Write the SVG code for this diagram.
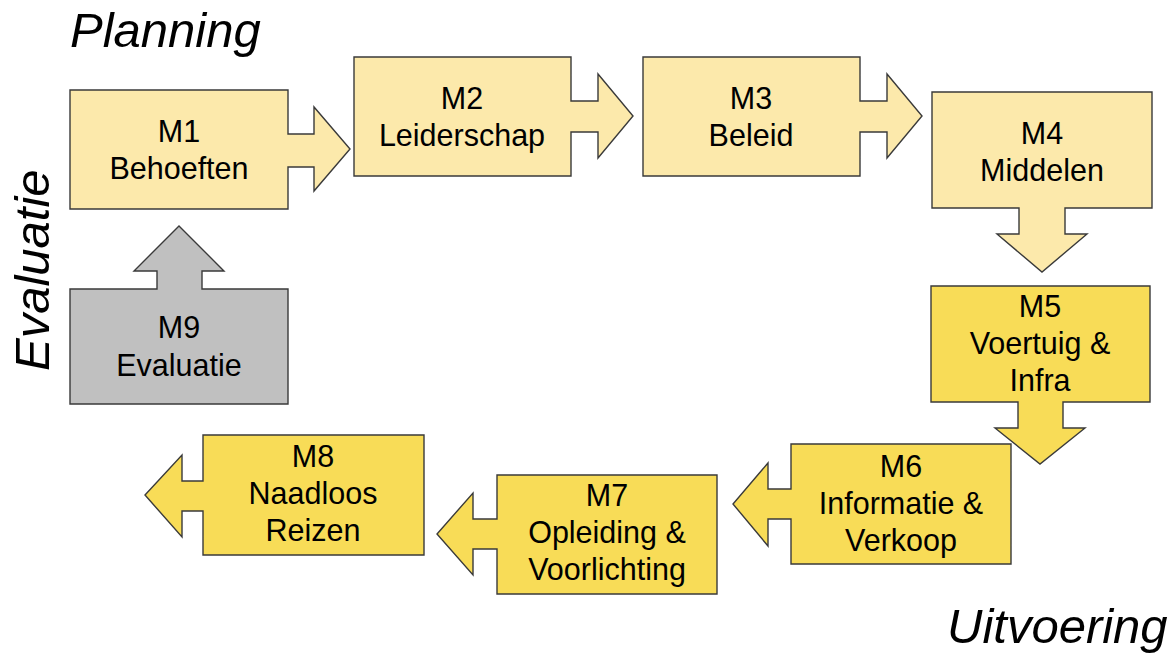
<svg xmlns="http://www.w3.org/2000/svg" width="1175" height="653" viewBox="0 0 1175 653">
<style>
.light{fill:#FCE9AB;stroke:#3a3a3a;stroke-width:1.4;stroke-linejoin:miter}
.gold{fill:#F8DC57;stroke:#3a3a3a;stroke-width:1.4;stroke-linejoin:miter}
.gray{fill:#C0C0C0;stroke:#3a3a3a;stroke-width:1.4;stroke-linejoin:miter}
.lbl{font-family:"Liberation Sans",Arial,sans-serif;font-size:30.5px;fill:#000;text-anchor:middle}
.title{font-family:"Liberation Sans",Arial,sans-serif;font-size:49px;font-style:italic;fill:#000}
</style>
<rect width="1175" height="653" fill="#fff"/>
<g id="titles">
<text class="title" x="70" y="47">Planning</text>
<text class="title" x="947" y="643">Uitvoering</text>
<text class="title" transform="translate(49,371) rotate(-90)" x="0" y="0">Evaluatie</text>
</g>
<g id="connectors"></g>
<g id="M1">
<path class="light" d="M70,90 H288 V134 H314 V107 L350,149 L314,191 V167 H288 V209 H70 Z"/>
<text class="lbl"><tspan x="179" y="142">M1</tspan><tspan x="179" y="179">Behoeften</tspan></text>
</g>
<g id="M2">
<path class="light" d="M354,57 H571 V101 H598 V74 L633,116 L598,158 V132 H571 V176 H354 Z"/>
<text class="lbl"><tspan x="462" y="109">M2</tspan><tspan x="462" y="146">Leiderschap</tspan></text>
</g>
<g id="M3">
<path class="light" d="M643,57 H860 V101 H887 V74 L922,116 L887,158 V132 H860 V176 H643 Z"/>
<text class="lbl"><tspan x="751" y="109">M3</tspan><tspan x="751" y="146">Beleid</tspan></text>
</g>
<g id="M4">
<path class="light" d="M932,92 H1152 V208 H1065 V234 H1087 L1042,272 L997,234 H1019 V208 H932 Z"/>
<text class="lbl"><tspan x="1042" y="144">M4</tspan><tspan x="1042" y="181">Middelen</tspan></text>
</g>
<g id="M5">
<path class="gold" d="M931,286 H1150 V402 H1063 V428 H1085 L1040,464 L995,428 H1018 V402 H931 Z"/>
<text class="lbl"><tspan x="1040" y="317">M5</tspan><tspan x="1040" y="354">Voertuig &amp;</tspan><tspan x="1040" y="391">Infra</tspan></text>
</g>
<g id="M6">
<path class="gold" d="M791,444 H1011 V564 H791 V519 H768 V546 L733,504 L768,463 V489 H791 Z"/>
<text class="lbl"><tspan x="901" y="477">M6</tspan><tspan x="901" y="514">Informatie &amp;</tspan><tspan x="901" y="551">Verkoop</tspan></text>
</g>
<g id="M7">
<path class="gold" d="M497,475 H717 V594 H497 V549 H473 V575 L437,534 L473,493 V519 H497 Z"/>
<text class="lbl"><tspan x="607" y="506">M7</tspan><tspan x="607" y="543">Opleiding &amp;</tspan><tspan x="607" y="580">Voorlichting</tspan></text>
</g>
<g id="M8">
<path class="gold" d="M203,435 H424 V555 H203 V511 H182 V537 L145,495 L182,455 V481 H203 Z"/>
<text class="lbl"><tspan x="313" y="467">M8</tspan><tspan x="313" y="504">Naadloos</tspan><tspan x="313" y="541">Reizen</tspan></text>
</g>
<g id="M9">
<path class="gray" d="M70,289 H157 V271 H134 L179,226 L224,271 H202 V289 H288 V404 H70 Z"/>
<text class="lbl"><tspan x="179" y="338">M9</tspan><tspan x="179" y="376">Evaluatie</tspan></text>
</g>
</svg>
